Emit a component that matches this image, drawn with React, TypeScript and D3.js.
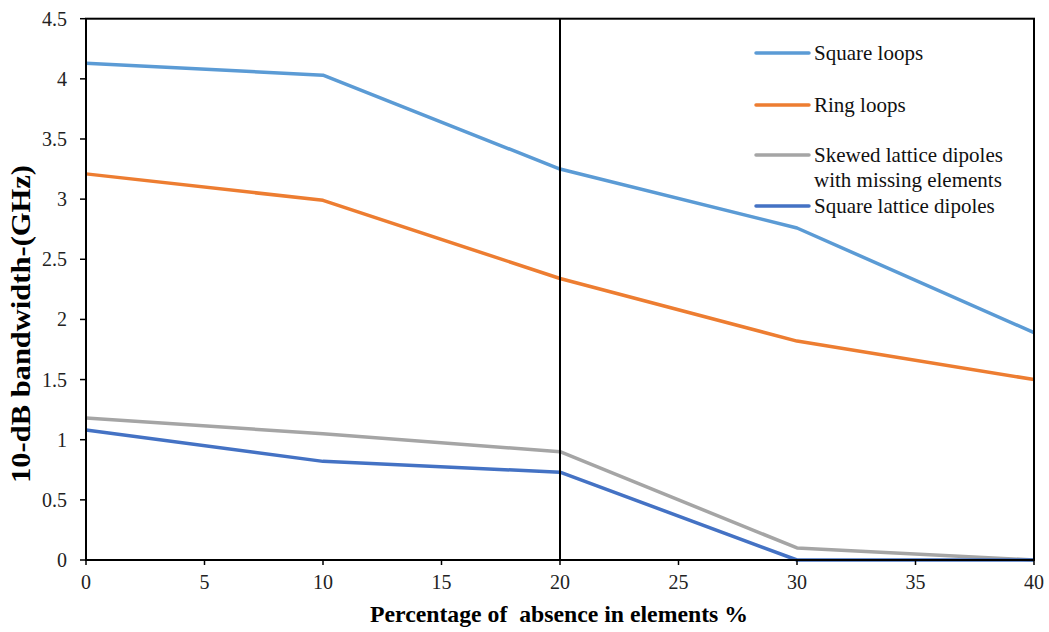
import React from "react";
import * as d3 from "d3";

const xValues = [0, 10, 20, 30, 40];
const seriesNames = ["Square loops", "Ring loops", "Skewed lattice dipoles with missing elements", "Square lattice dipoles"];
const squareLoops = [4.13, 4.03, 3.25, 2.76, 1.89];
const ringLoops = [3.21, 2.99, 2.34, 1.82, 1.5];
const skewedDipoles = [1.18, 1.05, 0.9, 0.1, 0];
const squareDipoles = [1.08, 0.82, 0.73, 0, 0];
const colors = ["#5B9BD5", "#ED7D31", "#A5A5A5", "#4472C4"];
const xTicks = [0, 5, 10, 15, 20, 25, 30, 35, 40];
const yTicks = [0, 0.5, 1, 1.5, 2, 2.5, 3, 3.5, 4, 4.5];

const W = 1049, H = 632;
const L = 86, R = 1034, T = 18.7, B = 560;

export default function App() {
  const x = d3.scaleLinear().domain([0, 40]).range([L, R]);
  const y = d3.scaleLinear().domain([0, 4.5]).range([B, T]);
  const line = d3.line<number>().x((_, i) => x(xValues[i])).y((d) => y(d));
  const all = [squareLoops, ringLoops, skewedDipoles, squareDipoles];
  const font = '"Liberation Serif", "Times New Roman", serif';
  const legendRows = [
    { lines: [seriesNames[0]], y: 53, c: 0 },
    { lines: [seriesNames[1]], y: 105, c: 1 },
    { lines: ["Skewed lattice dipoles", "with missing elements"], y: 155, c: 2 },
    { lines: [seriesNames[3]], y: 206, c: 3 },
  ];
  return (
    <svg width={W} height={H} style={{ position: "absolute", left: 0, top: 0 }} fontFamily={font}>
      <rect width={W} height={H} fill="white" />
      {all.map((s, i) => (
        <path key={i} d={line(s) || ""} fill="none" stroke={colors[i]} strokeWidth={3.5} strokeLinejoin="round" />
      ))}
      <rect x={L} y={T} width={R - L} height={B - T} fill="none" stroke="black" strokeWidth={2} />
      <line x1={x(20)} x2={x(20)} y1={T} y2={B} stroke="black" strokeWidth={2} />
      {yTicks.map((t) => (
        <g key={t}>
          <line x1={L - 6} x2={L} y1={y(t)} y2={y(t)} stroke="black" strokeWidth={1.5} />
          <text x={67} y={y(t)} dy="0.35em" textAnchor="end" fontSize={20} fill="#222">{t}</text>
        </g>
      ))}
      {xTicks.map((t) => (
        <g key={t}>
          <line x1={x(t)} x2={x(t)} y1={B} y2={B + 5} stroke="black" strokeWidth={1.5} />
          <text x={x(t)} y={589} textAnchor="middle" fontSize={20} fill="#222">{t}</text>
        </g>
      ))}
      <text x={559} y={622} textAnchor="middle" fontSize={24} fontWeight="bold" textLength={378} lengthAdjust="spacingAndGlyphs" style={{ whiteSpace: "pre" }}>Percentage of  absence in elements %</text>
      <text transform="translate(30, 324) rotate(-90)" textAnchor="middle" fontSize={27} fontWeight="bold" textLength={318} lengthAdjust="spacingAndGlyphs">10-dB bandwidth-(GHz)</text>
      {legendRows.map((r) => (
        <g key={r.c}>
          <line x1={756} x2={809} y1={r.y} y2={r.y} stroke={colors[r.c]} strokeWidth={3.5} strokeLinecap="round" />
          {r.lines.map((ln, j) => (
            <text key={j} x={814} y={r.y + j * 25} dy="0.35em" fontSize={21} fill="#111">{ln}</text>
          ))}
        </g>
      ))}
    </svg>
  );
}
